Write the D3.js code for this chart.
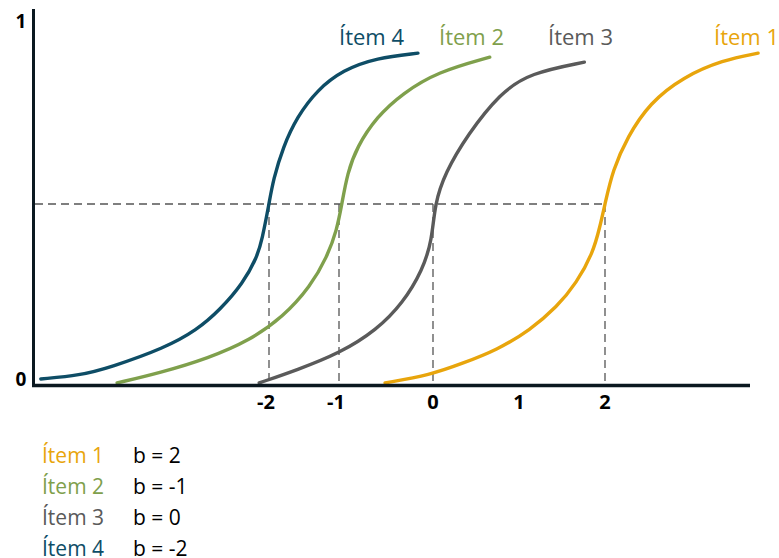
<!DOCTYPE html>
<html>
<head>
<meta charset="utf-8">
<script src="https://cdn.jsdelivr.net/npm/d3@7"></script>
<style>
	body { margin: 0; background: #fff; }
	text { font-family: "Open Sans", Lato, sans-serif; }
</style>
</head>
<body>
<div id="chart"></div>
<script>
// item characteristic curves, theta vs probability
var items = ["Ítem 1", "Ítem 2", "Ítem 3", "Ítem 4"];
var difficulty = [2, -1, 0, -2];
var colors = ["#E8A50C", "#7FA04C", "#5A5A5A", "#0E4D66"];

var item1_theta = [-0.51, -0.03, 0.35, 0.74, 1.13, 1.44, 1.67, 1.86, 1.94, 2, 2.09, 2.26, 2.52, 2.91, 3.37, 3.78];
var item1_p = [0.003, 0.025, 0.058, 0.094, 0.15, 0.214, 0.281, 0.364, 0.436, 0.5, 0.594, 0.686, 0.781, 0.853, 0.9, 0.919];

var item2_theta = [-4.17, -3.56, -2.86, -2.27, -1.8, -1.41, -1.17, -1.03, -0.97, -0.91, -0.81, -0.6, -0.32, 0.05, 0.66];
var item2_p = [0.003, 0.031, 0.072, 0.122, 0.186, 0.27, 0.353, 0.428, 0.5, 0.586, 0.658, 0.742, 0.808, 0.867, 0.908];

var item3_theta = [-2.14, -1.6, -0.99, -0.6, -0.32, -0.11, -0.01, 0.02, 0.14, 0.4, 0.78, 1.13, 1.76];
var item3_p = [0.003, 0.039, 0.086, 0.15, 0.225, 0.317, 0.4, 0.5, 0.586, 0.692, 0.808, 0.864, 0.894];

var item4_theta = [-5.26, -4.7, -4.27, -3.49, -3.03, -2.7, -2.37, -2.17, -2.1, -2, -1.94, -1.8, -1.6, -1.31, -0.96, -0.6, -0.16];
var item4_p = [0.014, 0.024, 0.046, 0.1, 0.15, 0.206, 0.28, 0.353, 0.4, 0.5, 0.567, 0.658, 0.742, 0.817, 0.872, 0.906, 0.919];

var x_ticks = [-2, -1, 0, 1, 2];
var y_ticks = [0, 1];

var series = [
	{ theta: item1_theta, p: item1_p },
	{ theta: item2_theta, p: item2_p },
	{ theta: item3_theta, p: item3_p },
	{ theta: item4_theta, p: item4_p }
];

var width = 779,
	height = 558;

// top labels, left edges
var label_x = [714, 439, 548, 339];

var svg = d3.select("#chart").append("svg")
	.attr("width", width)
	.attr("height", height);

// the picture's axis is not evenly spaced, so map each tick
var x = d3.scaleLinear()
	.domain([-2, -1, 0, 1, 2])
	.range([269, 339, 433, 519, 605]);

var y = d3.scaleLinear()
	.domain([0, 1])
	.range([384, 24]);

// basis smooths out the small wobble of the read points
var line = d3.line()
	.x(function(d) { return x(d[0]); })
	.y(function(d) { return y(d[1]); })
	.curve(d3.curveBasis);

// dashed guides at p = 0.5
var guides = svg.append("g")
	.style("stroke", "#555")
	.style("stroke-width", "1.3px")
	.style("stroke-dasharray", "8,5")
	.style("fill", "none");

guides.append("line")
	.attr("x1", 35)
	.attr("x2", x(d3.max(difficulty)))
	.attr("y1", y(0.5))
	.attr("y2", y(0.5));

guides.selectAll(".vguide")
	.data(difficulty)
	.enter()
	.append("line")
	.attr("class", "vguide")
	.attr("x1", function(d) { return x(d); })
	.attr("x2", function(d) { return x(d); })
	.attr("y1", y(0.5))
	.attr("y2", y(0) + 1);

// curves
svg.selectAll(".icc")
	.data(series)
	.enter()
	.append("path")
	.attr("class", "icc")
	.attr("d", function(d) {
		return line(d.theta.map(function(t, i) { return [t, d.p[i]]; }));
	})
	.style("fill", "none")
	.style("stroke", function(d, i) { return colors[i]; })
	.style("stroke-width", "3.4px")
	.style("stroke-linecap", "round");

// axes
svg.append("line")
	.attr("x1", 33.5).attr("x2", 33.5)
	.attr("y1", 9).attr("y2", 387)
	.style("stroke", "#0B1820")
	.style("stroke-width", "3px");

svg.append("line")
	.attr("x1", 32).attr("x2", 750)
	.attr("y1", 385.5).attr("y2", 385.5)
	.style("stroke", "#0B1820")
	.style("stroke-width", "3.5px");

svg.selectAll(".xtick")
	.data(x_ticks)
	.enter()
	.append("text")
	.attr("class", "xtick")
	.attr("x", function(d) { return x(d) - (d < 0 ? 3 : 0); })
	.attr("y", 409)
	.style("text-anchor", "middle")
	.style("font-size", "20px")
	.style("font-weight", "bold")
	.style("fill", "#000")
	.text(function(d) { return d < 0 ? "-" + Math.abs(d) : d; });

svg.selectAll(".ytick")
	.data(y_ticks)
	.enter()
	.append("text")
	.attr("class", "ytick")
	.attr("x", 21)
	.attr("y", function(d) { return d == 0 ? 386 : 28; })
	.style("text-anchor", "middle")
	.style("font-size", "19px")
	.style("font-weight", "bold")
	.style("fill", "#000")
	.text(function(d) { return d; });

// labels above the curves
svg.selectAll(".toplabel")
	.data(items)
	.enter()
	.append("text")
	.attr("class", "toplabel")
	.attr("x", function(d, i) { return label_x[i]; })
	.attr("y", 45)
	.style("font-size", "22px")
	.style("fill", function(d, i) { return colors[i]; })
	.text(function(d) { return d; });

// legend
var legend = svg.selectAll(".legend")
	.data(items)
	.enter()
	.append("g")
	.attr("class", "legend")
	.attr("transform", function(d, i) {
		return "translate(42," + (463 + i * 31) + ")";
	});

legend.append("text")
	.style("font-size", "21px")
	.style("fill", function(d, i) { return colors[i]; })
	.text(function(d) { return d; });

legend.append("text")
	.attr("x", 91)
	.style("font-size", "21px")
	.style("fill", "#000")
	.text(function(d, i) { return "b = " + difficulty[i]; });
</script>
</body>
</html>
